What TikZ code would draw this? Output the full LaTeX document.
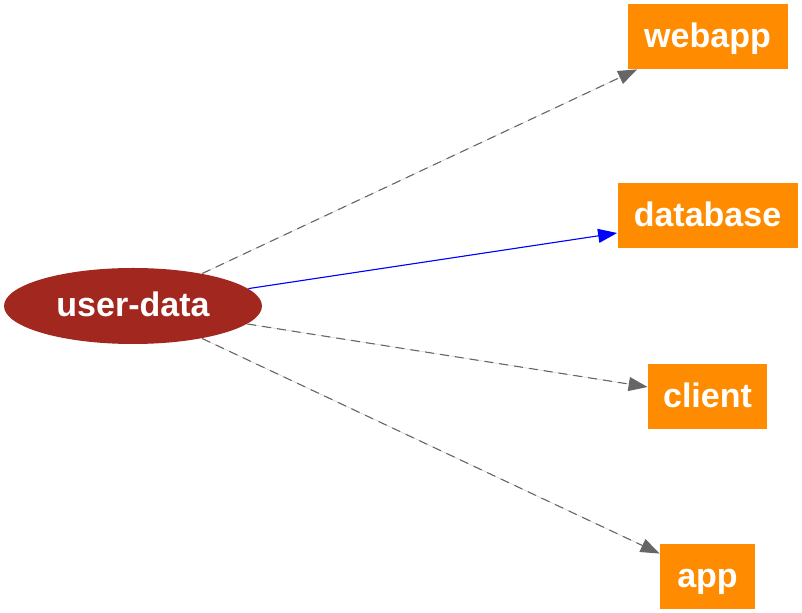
\documentclass[tikz,border=0pt]{standalone}
\usepackage{fontspec}
\setmainfont{Liberation Sans}
\usepackage{tikz}
\usetikzlibrary{shapes,arrows.meta,calc}
\definecolor{srcred}{HTML}{A2281F}
\definecolor{dstorange}{HTML}{FF8C00}
\definecolor{edgegray}{HTML}{666666}
\tikzstyle{every node}=[text=white,font=\fontsize{17}{20}\selectfont\bfseries,inner sep=0pt,text height=12.5pt,text depth=1.5pt]
\tikzstyle{src}=[ellipse,fill=srcred,minimum width=129pt,minimum height=38pt]
\tikzstyle{dst}=[rectangle,fill=dstorange,minimum height=32.5pt]
\tikzstyle{link}=[-{Triangle[length=9.5pt,width=7pt]},line width=0.55pt]
\tikzstyle{weak}=[link,draw=edgegray,fill=edgegray,dash pattern=on 4.5pt off 3pt]
\tikzstyle{strong}=[link,draw=blue,fill=blue]

\begin{document}
\begin{tikzpicture}[x=0.5pt,y=-0.5pt]
        \useasboundingbox (0,0) rectangle (802,613);
        \node[src] (userdata) at (133,306) {user-data};
        \node[dst,minimum width=80pt] (webapp) at (707.5,36.5) {webapp};
        \node[dst,minimum width=90pt] (database) at (707.5,216) {database};
        \node[dst,minimum width=59.5pt] (client) at (707.5,396.5) {client};
        \node[dst,minimum width=47.5pt] (app) at (707.5,576.5) {app};
        \draw[weak] (userdata) -- ($(webapp.south west)+(10,0)$);
        \draw[strong] (userdata) -- ($(database.west)+(0,17)$);
        \draw[weak] (userdata) -- ($(client.west)+(0,-9.5)$);
        \draw[weak] (userdata) -- ($(app.north west)+(0,10)$);
\end{tikzpicture}
\end{document}
